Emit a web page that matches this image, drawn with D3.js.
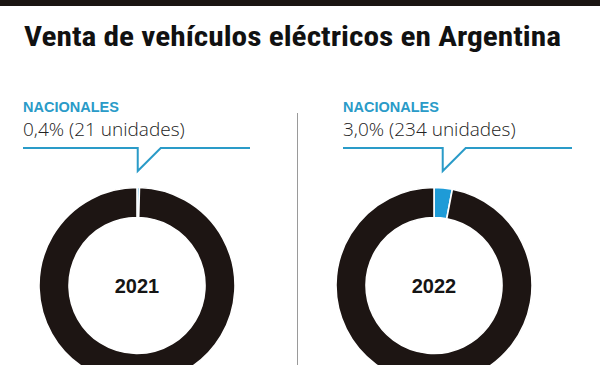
<!DOCTYPE html>
<html>
<head>
<meta charset="utf-8">
<script src="https://cdn.jsdelivr.net/npm/d3@7"></script>
<style>
  body { margin: 0; background: #fff; }
  #viz { width: 600px; height: 365px; overflow: hidden; }
</style>
</head>
<body>
<div id="viz"></div>
<script>
// datos
const title = 'Venta de vehículos eléctricos en Argentina';
const years = ['2021', '2022'];
const nacionalesPct = [0.4, 3.0];
const nacionalesUnits = [21, 234];
const seriesLabel = 'NACIONALES';

const width = 600;
const height = 365;
const dark = '#1d1513';
const blue = '#1e9bd7';
const labelBlue = '#2a9bc8';

// posiciones de cada panel
const centersX = [137, 434];
const labelX = [23, 343];
const lineEnd = [250, 572];

const svg = d3.select('#viz')
  .append('svg')
  .attr('width', width)
  .attr('height', height);

// barra superior
svg.append('rect')
  .attr('x', 0)
  .attr('y', 0)
  .attr('width', width)
  .attr('height', 6)
  .attr('fill', '#1a1512');

svg.append('text')
  .attr('x', 24)
  .attr('y', 46)
  .attr('font-family', '"Liberation Sans Narrow", "Roboto Condensed", Roboto, sans-serif')
  .attr('font-weight', 'bold')
  .attr('font-size', 27)
  .attr('textLength', 537)
  .attr('lengthAdjust', 'spacingAndGlyphs')
  .attr('fill', '#111')
  .text(title);

// divisor
svg.append('line')
  .attr('x1', 297.5)
  .attr('x2', 297.5)
  .attr('y1', 113)
  .attr('y2', height)
  .attr('stroke', '#9a9a9a')
  .attr('stroke-width', 1);

const outerR = 98;
const innerR = 68;
const cy = 285.5;

const pie = d3.pie()
  .sort(null)
  .value(d => d);

const arc = d3.arc()
  .innerRadius(innerR)
  .outerRadius(outerR);

const fmt = v => d3.format('.1f')(v).replace('.', ',');

years.forEach((year, i) => {
  const cx = centersX[i];
  const g = svg.append('g')
    .attr('transform', `translate(${cx},${cy})`);

  const slices = pie([nacionalesPct[i], 100 - nacionalesPct[i]]);

  g.selectAll('path')
    .data(slices)
    .enter()
    .append('path')
    .attr('d', arc)
    .attr('fill', (d, j) => (j === 0 ? blue : dark))
    .attr('stroke', '#fff')
    .attr('stroke-width', 1.6);

  g.append('text')
    .attr('text-anchor', 'middle')
    .attr('y', 7)
    .attr('font-family', '"Liberation Sans", Arial, sans-serif')
    .attr('font-weight', 'bold')
    .attr('font-size', 20)
    .attr('fill', '#151515')
    .text(year);

  // etiqueta
  const lx = labelX[i];
  svg.append('text')
    .attr('x', lx)
    .attr('y', 112)
    .attr('font-family', '"Liberation Sans", Arial, sans-serif')
    .attr('font-weight', 'bold')
    .attr('font-size', 14.5)
    .attr('fill', labelBlue)
    .text(seriesLabel);

  svg.append('text')
    .attr('x', lx)
    .attr('y', 136)
    .attr('font-family', '"Open Sans", "Noto Sans", sans-serif')
    .attr('font-weight', 300)
    .attr('font-size', 19)
    .attr('fill', '#222')
    .text(`${fmt(nacionalesPct[i])}% (${nacionalesUnits[i]} unidades)`);

  // llamada
  const mid = (slices[0].startAngle + slices[0].endAngle) / 2;
  const tipX = cx + outerR * Math.sin(mid) - 0.5;
  const lineY = 148;
  const tipY = 171;
  const path = d3.path();
  path.moveTo(lx, lineY);
  path.lineTo(tipX, lineY);
  path.lineTo(tipX, tipY);
  path.lineTo(tipX + 23, lineY);
  path.lineTo(lineEnd[i], lineY);
  svg.append('path')
    .attr('d', path.toString())
    .attr('fill', 'none')
    .attr('stroke', labelBlue)
    .attr('stroke-width', 2);
});
</script>
</body>
</html>
